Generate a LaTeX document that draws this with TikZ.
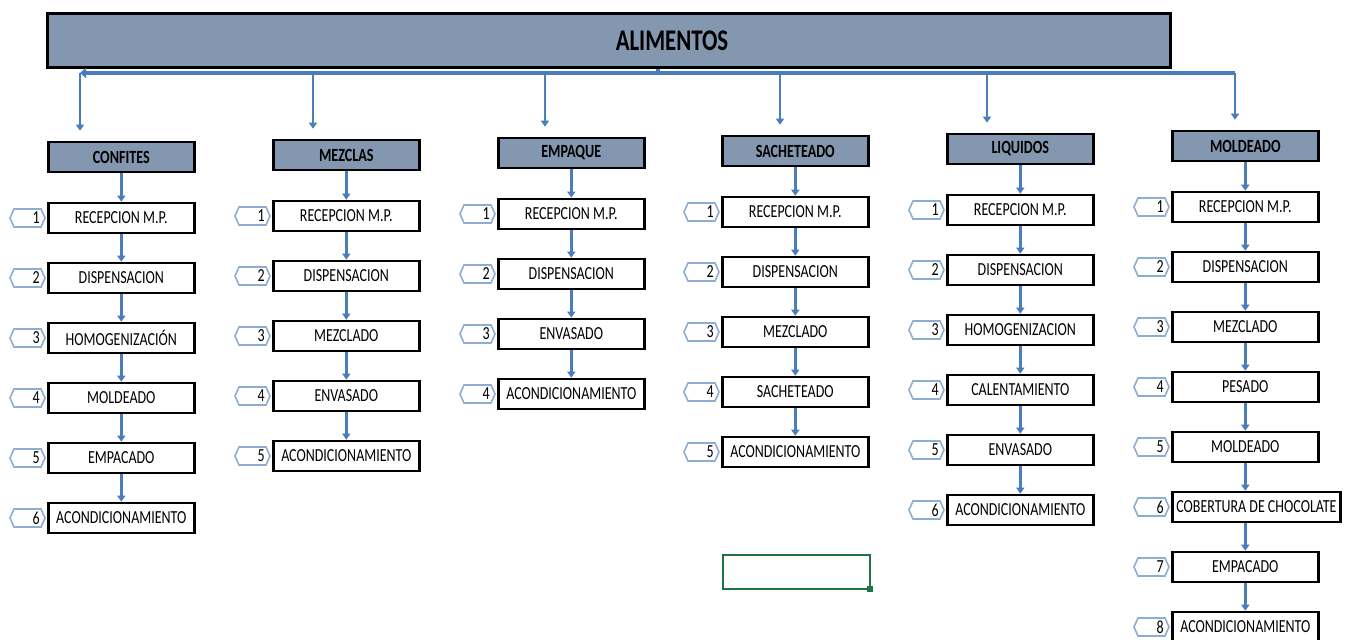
\documentclass[tikz,border=0pt]{standalone}
\usepackage{fontspec}
\setmainfont{Carlito}[FakeStretch=0.76]
\usetikzlibrary{arrows.meta}
\definecolor{hdrfill}{HTML}{8497B0}
\definecolor{flowblue}{HTML}{4A7EBB}
\definecolor{tagblue}{HTML}{8EADD3}
\definecolor{cellgreen}{HTML}{217346}

\begin{document}
\begin{tikzpicture}[x=0.5pt, y=-0.5pt,
    hdr/.style={draw, line width=1.3pt, fill=hdrfill, font=\bfseries\fontsize{9.3}{11}\selectfont,
      minimum width=73pt, minimum height=15pt, inner sep=1pt, anchor=west},
    stepbox/.style={draw, line width=1.3pt, fill=white, font=\fontsize{9.2}{10}\selectfont,
      minimum width=73pt, minimum height=15pt, inner xsep=2pt, inner ysep=0pt, anchor=west},
    flow/.style={flowblue, line width=1.4pt, -{Triangle[length=3pt,width=4pt]}},
    busline/.style={flowblue, line width=1.9pt},
    tagline/.style={tagblue, line width=0.8pt}]
  \useasboundingbox (0,0) rectangle (1357,640);

  \node [draw, line width=1.5pt, fill=hdrfill, minimum width=561.5pt, minimum height=27pt,
    font=\bfseries\fontsize{15}{18}\selectfont] (alimentos) at (608.5,41) {\hspace*{63.5pt}ALIMENTOS};
  \coordinate (hub) at (658,73);
  \coordinate (busL) at (80,73);
  \coordinate (busR) at (1235,73);
  \draw [busline] (alimentos.south -| hub) -- (hub);
  \draw [busline, {Triangle[length=3pt,width=5pt]}-] (busL) -- (busR);

  \foreach \c/\x/\y/\dx/\cat/\steps in {
      1/47/157/80/CONFITES/{RECEPCION M.P., DISPENSACION, HOMOGENIZACIÓN, MOLDEADO, EMPACADO, ACONDICIONAMIENTO},
      2/272/155/313/MEZCLAS/{RECEPCION M.P., DISPENSACION, MEZCLADO, ENVASADO, ACONDICIONAMIENTO},
      3/497/153/545/EMPAQUE/{RECEPCION M.P., DISPENSACION, ENVASADO, ACONDICIONAMIENTO},
      4/721/151/780/SACHETEADO/{RECEPCION M.P., DISPENSACION, MEZCLADO, SACHETEADO, ACONDICIONAMIENTO},
      5/946/149/987/LIQUIDOS/{RECEPCION M.P., DISPENSACION, HOMOGENIZACION, CALENTAMIENTO, ENVASADO, ACONDICIONAMIENTO},
      6/1171/146/1235/MOLDEADO/{RECEPCION M.P., DISPENSACION, MEZCLADO, PESADO, MOLDEADO, COBERTURA DE CHOCOLATE, EMPACADO, ACONDICIONAMIENTO}} {
    \node [hdr] (c\c-0) at (\x,\y) {\cat};
    \coordinate (drop\c) at (\dx,73);
    \draw [flow, shorten >=5pt] (drop\c) -- (drop\c |- c\c-0.north);
    \foreach \s [count=\r] in \steps {
      \pgfmathtruncatemacro\p{\r-1}
      \node [stepbox] (c\c-\r) at (\x,\y+1+60*\r) {\s};
      \draw [flow] (c\c-\p.south -| c\c-0.south) -- (c\c-\r.north -| c\c-0.south);
      \draw [tagline] ([xshift=-18.5pt]c\c-\r.west) -- ++(4,-9) -- ++(27,0) -- ++(4,9)
        -- ++(-4,9) -- ++(-27,0) -- cycle;
      \node [anchor=east, inner sep=0pt, font=\fontsize{9.2}{10}\selectfont] (n\c-\r)
        at ([xshift=-3.5pt]c\c-\r.west) {\r};
    }
  }

  \draw [cellgreen, line width=1.2pt] (723,555) rectangle (870,589);
  \fill [cellgreen] (867,586) rectangle (873,592);
\end{tikzpicture}
\end{document}
